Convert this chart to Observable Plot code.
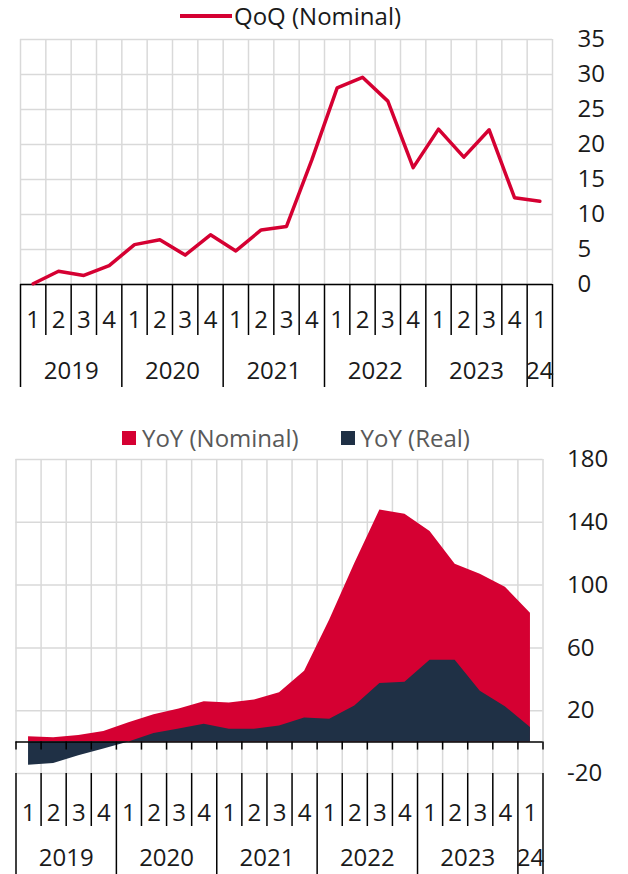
<!DOCTYPE html>
<html>
<head>
<meta charset="utf-8">
<script src="https://cdn.jsdelivr.net/npm/d3@7"></script>
<script src="https://cdn.jsdelivr.net/npm/@observablehq/plot@0.6"></script>
<style>
  body { margin: 0; background: #fff; font-family: "Open Sans", sans-serif; }
  #wrap { position: relative; width: 628px; height: 874px; overflow: hidden; background: #fff; }
  #wrap svg { position: absolute; left: 0; overflow: visible; }
  .legend { position: absolute; display: flex; align-items: center; font-size: 24px; white-space: nowrap; line-height: 30px; height: 30px; }
  .swline { display: inline-block; width: 52px; height: 4px; background: #d50032; margin-right: 2px; }
  .swbox { display: inline-block; width: 14px; height: 14px; margin-right: 6px; }
</style>
</head>
<body>
<div id="wrap">
  <div class="legend" id="leg1" style="left:180px; top:1px; color:#1a1a1a;">
    <span class="swline"></span><span>QoQ (Nominal)</span>
  </div>
  <div class="legend" id="leg2" style="left:122px; top:423px; color:#595959;">
    <span class="swbox" style="background:#d50032"></span><span>YoY (Nominal)</span>
    <span style="display:inline-block;width:42px"></span>
    <span class="swbox" style="background:#1f3045"></span><span>YoY (Real)</span>
  </div>
</div>
<script>
// ---------- data ----------
const quarterLabels = ["1","2","3","4","1","2","3","4","1","2","3","4","1","2","3","4","1","2","3","4","1"];
const years = ["2019","2020","2021","2022","2023","24"];
const yearQuarterCounts = [4, 4, 4, 4, 4, 1];
const qoqNominal = [0.1, 1.9, 1.3, 2.7, 5.7, 6.4, 4.2, 7.1, 4.8, 7.8, 8.3, 17.8, 28.1, 29.6, 26.2, 16.7, 22.2, 18.2, 22.1, 12.4, 11.9];
const yoyNominal = [3.4, 2.7, 4.2, 6.8, 12.4, 17.5, 21.1, 25.7, 24.9, 26.8, 31.4, 45.1, 77.8, 113.7, 147.9, 145.1, 134.2, 113.3, 106.9, 98.6, 82.1];
const yoyReal = [-14.8, -13.7, -8.7, -4.4, 0.0, 5.5, 8.4, 11.4, 8.2, 8.2, 10.3, 15.4, 14.6, 23.0, 37.3, 38.2, 52.1, 52.1, 32.4, 22.5, 9.3];
const qoqTicks = [0, 5, 10, 15, 20, 25, 30, 35];
const yoyTicks = [-20, 20, 60, 100, 140, 180];

// ---------- derived ----------
const n = quarterLabels.length;
const centers = d3.range(n).map(i => i + 0.5);
const bounds = d3.range(n + 1);
const yearBounds = [0, ...d3.cumsum(yearQuarterCounts)];
const quarterBounds = bounds.filter(b => !yearBounds.includes(b));
const yearCenters = years.map((y, j) => (yearBounds[j] + yearBounds[j + 1]) / 2);
const qLabel = d => quarterLabels[Math.floor(d)];
const yLabel = d => years[yearCenters.indexOf(d)];
const numLabel = d => String(d);

const RED = "#d50032", NAVY = "#1f3045", GRID = "#d9d9d9", INK = "#1a1a1a";
const FS = 24;

function axisTable(qTick, yTick, qPad, yPad) {
  return [
    Plot.axisX(quarterBounds, {anchor: "bottom", label: null, tickSize: qTick, tickFormat: () => "", stroke: "#000", strokeWidth: 1.5}),
    Plot.axisX(yearBounds, {anchor: "bottom", label: null, tickSize: yTick, tickFormat: () => "", stroke: "#000", strokeWidth: 1.5}),
    Plot.axisX(centers, {anchor: "bottom", label: null, tickSize: 0, tickPadding: qPad, tickFormat: qLabel, fontSize: FS, fill: INK}),
    Plot.axisX(yearCenters, {anchor: "bottom", label: null, tickSize: 0, tickPadding: yPad, tickFormat: yLabel, fontSize: FS, fill: INK})
  ];
}

const chartTop = Plot.plot({
  width: 628, height: 390,
  marginTop: 39, marginBottom: 106, marginLeft: 20, marginRight: 76,
  style: {fontFamily: "Open Sans", fontSize: FS + "px", background: "transparent", overflow: "visible", color: INK},
  x: {type: "linear", domain: [0, n], axis: null, label: null},
  y: {domain: [0, 35], axis: null, label: null},
  marks: [
    Plot.gridY(qoqTicks, {stroke: GRID, strokeOpacity: 1, strokeWidth: 1.5}),
    Plot.gridX(bounds, {stroke: GRID, strokeOpacity: 1, strokeWidth: 1.5}),
    Plot.axisY(qoqTicks, {anchor: "right", label: null, tickSize: 0, tickPadding: 25, tickFormat: numLabel, fontSize: FS, fill: INK, textAnchor: "start"}),
    Plot.ruleY([0], {stroke: "#000", strokeWidth: 1.5}),
    ...axisTable(51, 103, 26, 77),
    Plot.line(centers, {x: d => d, y: (d, i) => qoqNominal[i], stroke: RED, strokeWidth: 3.5, strokeLinejoin: "round"})
  ]
});
chartTop.style.top = "0px";
document.getElementById("wrap").appendChild(chartTop);

const yoyData = centers.map((c, i) => ({x: c, nominal: yoyNominal[i], real: yoyReal[i]}));
const chartBottom = Plot.plot({
  width: 628, height: 484,
  marginTop: 69, marginBottom: 101, marginLeft: 15.5, marginRight: 85.5,
  style: {fontFamily: "Open Sans", fontSize: FS + "px", background: "transparent", overflow: "visible", color: INK},
  x: {type: "linear", domain: [0, n], axis: null, label: null},
  y: {domain: [-20, 180], axis: null, label: null},
  marks: [
    Plot.gridY(yoyTicks, {stroke: GRID, strokeOpacity: 1, strokeWidth: 1.5}),
    Plot.gridX(bounds, {stroke: GRID, strokeOpacity: 1, strokeWidth: 1.5}),
    Plot.areaY(yoyData, {x: "x", y1: 0, y2: "nominal", fill: RED}),
    Plot.areaY(yoyData, {x: "x", y1: 0, y2: "real", fill: NAVY}),
    Plot.ruleY([0], {stroke: "#000", strokeWidth: 1.5}),
    Plot.ruleX(bounds, {x: d => d, y1: 0, y2: 0, insetBottom: -8, stroke: "#000", strokeWidth: 1.5}),
    Plot.axisY(yoyTicks, {anchor: "right", label: null, tickSize: 0, tickPadding: 24, tickFormat: numLabel, fontSize: FS, fill: INK, textAnchor: "start"}),
    ...axisTable(53, 101, 30, 75)
  ]
});
chartBottom.style.top = "390px";
document.getElementById("wrap").appendChild(chartBottom);
</script>
</body>
</html>
